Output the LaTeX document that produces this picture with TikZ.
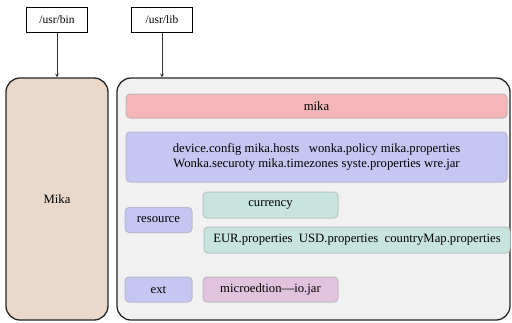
\documentclass[tikz,border=0pt]{standalone}
\usepackage{fontspec}
\setmainfont{Liberation Serif}
\begin{document}
\begin{tikzpicture}[x=1pt,y=-1pt,
  lbl/.style={draw=black, line width=1.2pt, fill=white, minimum width=61pt, minimum height=25pt, inner sep=0pt, font=\fontsize{11.5}{14}\selectfont},
  outer/.style={draw=black!85, line width=1.3pt, rounded corners=14pt},
  inbox/.style={draw=#1!70!black!60, line width=1pt, rounded corners=4pt, fill=#1, inner sep=0pt, font=\fontsize{12.7}{15.5}\selectfont},
  arr/.style={->, >=stealth, line width=0.7pt, draw=black!80}
]
\useasboundingbox (0,0) rectangle (512,322);
\definecolor{peach}{HTML}{EAD8CB}
\definecolor{pinkbar}{HTML}{F4B6B6}
\definecolor{lav}{HTML}{C6C6F2}
\definecolor{teal}{HTML}{C7E4DF}
\definecolor{mauve}{HTML}{E2C3DD}
\definecolor{libbg}{HTML}{F1F1F1}

\node[lbl] (bin) at (57,20) {/usr/bin};
\node[lbl] (lib) at (162,20) {/usr/lib};

\node[outer, fill=peach, minimum width=102pt, minimum height=242pt, inner sep=0pt, font=\fontsize{12.7}{15.5}\selectfont] (mika) at (57,199) {Mika};
\node[outer, fill=libbg, minimum width=393pt, minimum height=242pt, inner sep=0pt] (libbox) at (313.5,199) {};

\draw[arr] (bin) -- (mika.north);
\draw[arr] (lib.south) -- (lib.south |- libbox.north);

\node[inbox=pinkbar, minimum width=381pt, minimum height=24pt] (mk) at (316.5,106) {mika};
\node[inbox=lav, minimum width=381pt, minimum height=50pt, align=center] (files) at (316.5,157) {device.config mika.hosts\ \ \ wonka.policy mika.properties\\Wonka.securoty mika.timezones syste.properties wre.jar};
\node[inbox=lav, minimum width=67pt, minimum height=25pt] (res) at (158.5,220) {resource};
\node[inbox=teal, minimum width=135pt, minimum height=26pt] (cur) at (270.5,205) {currency};
\node[inbox=teal, minimum width=306pt, minimum height=26pt] (eur) at (357,240) {EUR.properties\ \ USD.properties\ \ countryMap.properties};
\node[inbox=lav, minimum width=67pt, minimum height=25pt] (ext) at (158.5,289.5) {ext};
\node[inbox=mauve, minimum width=135pt, minimum height=25pt] (micro) at (270.5,289.5) {microedtion—io.jar};
\end{tikzpicture}
\end{document}
